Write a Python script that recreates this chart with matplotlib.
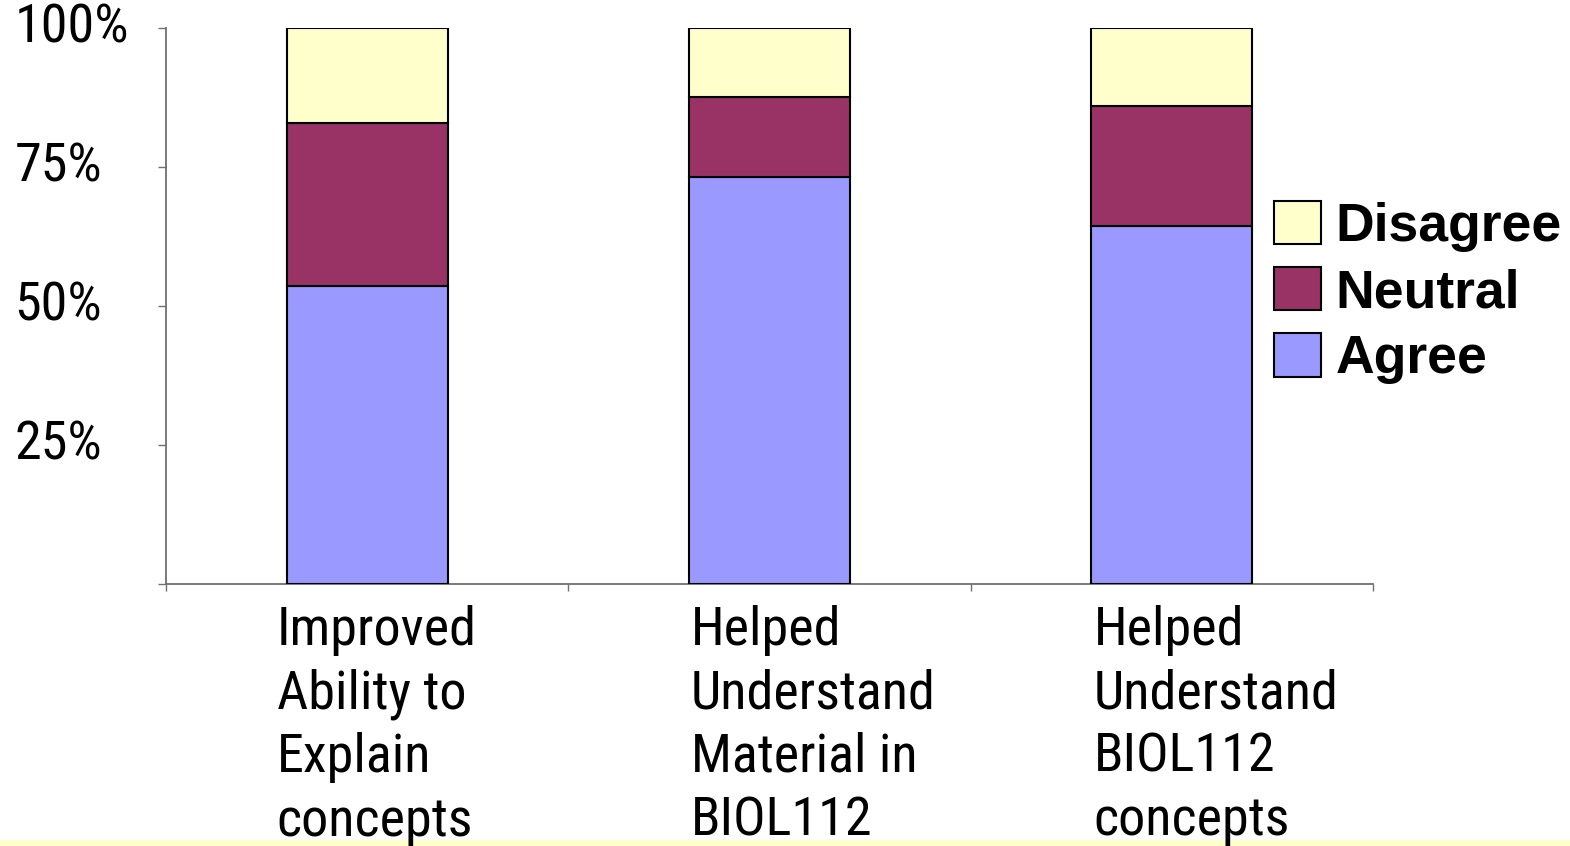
import numpy as np
import matplotlib.pyplot as plt
from matplotlib.patches import Rectangle
from matplotlib.transforms import blended_transform_factory

categories = ["Improved\nAbility to\nExplain\nconcepts",
              "Helped\nUnderstand\nMaterial in\nBIOL112",
              "Helped\nUnderstand\nBIOL112\nconcepts"]
agree = [53.6, 73.2, 64.4]
neutral = [29.3, 14.4, 21.6]
disagree = [17.1, 12.4, 14.0]
yticks = [0, 25, 50, 75, 100]
ytick_labels = ["", "25%", "50%", "75%", "100%"]

narrow = ["Roboto Condensed", "DejaVu Sans"]

fig = plt.figure(figsize=(15.7, 8.46), dpi=100)
ax = fig.add_axes([166/1570, 1 - 584/846, (1373 - 166)/1570, (584 - 28)/846])
ax.patch.set_alpha(0)

x = np.arange(len(categories))
w = 0.40
agree = np.array(agree)
neutral = np.array(neutral)
disagree = np.array(disagree)

ax.bar(x, agree, w, color="#9999FF", edgecolor="black", linewidth=1.5, label="Agree", zorder=3)
ax.bar(x, neutral, w, bottom=agree, color="#993366", edgecolor="black", linewidth=1.5,
       label="Neutral", zorder=3)
ax.bar(x, disagree, w, bottom=agree + neutral, color="#FFFFCC", edgecolor="black",
       linewidth=1.5, label="Disagree", zorder=3)

ax.set_xlim(-0.5, 2.5)
ax.set_ylim(0, 100)

# axes: only left and bottom lines, ticks on category boundaries
for s in ["top", "right"]:
    ax.spines[s].set_visible(False)
for s in ["left", "bottom"]:
    ax.spines[s].set_color("#707070")
    ax.spines[s].set_linewidth(1.3)

ax.set_xticks([-0.5, 0.5, 1.5, 2.5])
ax.set_xticklabels([])
ax.tick_params(axis="x", direction="out", length=5, width=1, color="#707070")

ax.set_yticks(yticks)
ax.set_yticklabels(ytick_labels, family=narrow, fontsize=39, ha="left")
ax.tick_params(axis="y", direction="out", length=6, width=1, color="#707070", pad=103)
for lbl in ax.get_yticklabels():
    lbl.set_verticalalignment("center")

# category labels, left aligned under each bar
trans = blended_transform_factory(ax.transData, ax.transAxes)
nudge = [-0.025, 0.005, 0.005]
for i, lab in enumerate(categories):
    ax.text(i - w / 2 + nudge[i], -0.038, lab, transform=trans, ha="left", va="top",
            family=narrow, fontsize=39, linespacing=1.31, clip_on=False)

handles, labels = ax.get_legend_handles_labels()
leg = fig.legend(handles[::-1], labels[::-1], loc="upper left",
                 bbox_to_anchor=(1274/1570, 1 - 201/846), bbox_transform=fig.transFigure,
                 frameon=False, prop={"family": "Liberation Sans", "weight": "bold", "size": 38.5},
                 handlelength=0.87, handleheight=0.87, handletextpad=0.28, labelspacing=0.28,
                 borderpad=0, borderaxespad=0)

# pale strip along the bottom edge, behind everything else
fig.patches.append(Rectangle((0, 0), 1, 6/846, transform=fig.transFigure,
                             facecolor="#FFFFCC", edgecolor="none", zorder=-5))

fig.savefig("out.png", dpi=100)
